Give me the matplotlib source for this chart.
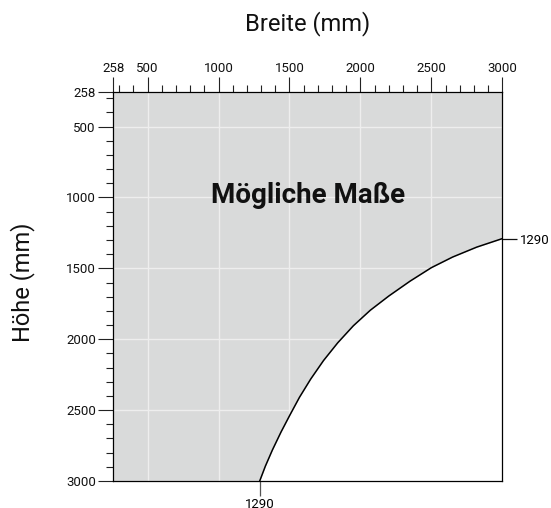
import matplotlib
matplotlib.use("Agg")
import matplotlib.pyplot as plt

plt.rcParams["font.family"] = ["Roboto", "DejaVu Sans"]

# Limit curve of the possible sizes (width, height in mm)
boundary_width = [1290, 1330, 1380, 1440, 1500, 1570, 1650, 1740, 1840, 1950,
                  2070, 2200, 2350, 2500, 2650, 2820, 3000]
boundary_height = [3000, 2895, 2780, 2655, 2540, 2410, 2280, 2150, 2025, 1905,
                   1795, 1695, 1590, 1495, 1420, 1350, 1290]

size_min = 258
size_max = 3000
major_ticks = [258, 500, 1000, 1500, 2000, 2500, 3000]
minor_ticks = [t for t in range(300, 3000, 100) if t % 500 != 0]
limit_value = 1290

region_label = "Mögliche Maße"
x_title = "Breite (mm)"
y_title = "Höhe (mm)"

fig = plt.figure(figsize=(5.51, 5.08), dpi=100)
ax = fig.add_axes([0.2056, 0.0531, 0.706, 0.7652])
ax.set_xlim(size_min, size_max)
ax.set_ylim(size_max, size_min)
ax.set_facecolor("#d9dada")

# white area beyond the limit curve
ax.fill_between(boundary_width, boundary_height, size_max, color="white", lw=0, zorder=1)
ax.plot(boundary_width, boundary_height, color="black", lw=1.1, zorder=3,
        solid_joinstyle="round")

ax.set_axisbelow(True)
ax.grid(True, which="major", color="#eeeeee", lw=1.0)

ax.set_xticks(major_ticks)
ax.set_xticks(minor_ticks, minor=True)
ax.set_yticks(major_ticks)
ax.set_yticks(minor_ticks, minor=True)

ax.xaxis.tick_top()
ax.tick_params(axis="both", which="major", length=10.5, width=0.8, color="#222222",
               labelsize=9.5, labelcolor="#111111", pad=2)
ax.tick_params(axis="both", which="minor", length=5, width=0.8, color="#222222")
ax.tick_params(axis="x", which="both", top=True, bottom=False)
ax.tick_params(axis="y", which="both", left=True, right=False)
for s in ax.spines.values():
    s.set_linewidth(0.9)
    s.set_color("black")

# markers for the limit value on the opposite sides
sx = ax.secondary_xaxis("bottom")
sx.set_xticks([limit_value])
sx.tick_params(length=10.5, width=0.9, color="#555555", labelsize=9.5, pad=2)
sx.spines["bottom"].set_visible(False)

sy = ax.secondary_yaxis("right")
sy.set_yticks([limit_value])
sy.tick_params(length=10.5, width=0.9, color="#111111", labelsize=9.5, pad=2)
sy.spines["right"].set_visible(False)

ax.text(0.5, 0.7152, region_label, transform=ax.transAxes, ha="center", va="baseline",
        fontsize=20, fontweight="bold", color="#111111", zorder=4)

fig.text(0.5586, 0.9528, x_title, ha="center", va="center", fontsize=17, color="#111111")
fig.text(0.040, 0.445, y_title, ha="center", va="center", rotation=90, fontsize=17, color="#111111")

fig.savefig("out.png", dpi=100)
